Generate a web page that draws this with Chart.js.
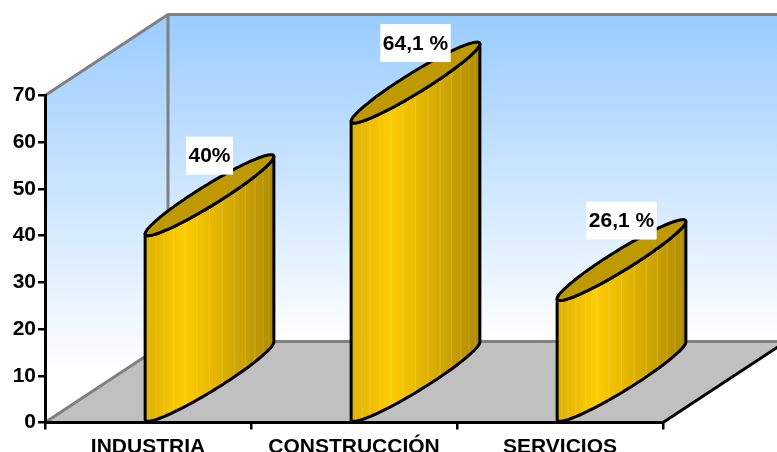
<!DOCTYPE html>
<html>
<head>
<meta charset="utf-8">
<style>
html, body { margin: 0; padding: 0; background: #fff; overflow: hidden; }
canvas { display: block; }
</style>
<script src="https://cdn.jsdelivr.net/npm/chart.js@4"></script>
</head>
<body>
<canvas id="sectorChart" width="777" height="452"></canvas>
<script>
const categories = ['INDUSTRIA', 'CONSTRUCCIÓN', 'SERVICIOS'];
const values = [40, 64.1, 26.1];
const valueLabels = ['40%', '64,1 %', '26,1 %'];
const yTicks = [0, 10, 20, 30, 40, 50, 60, 70];

// oblique depth of the 3d box
const DEPTH_X = 123;
const DEPTH_Y = 81;
const FONT = '"Liberation Sans", Arial, sans-serif';

/**
 * Walls and floor, hung off the chart area so they follow the scales
 */
const wallsPlugin = {
    id: 'walls',
    beforeDraw(chart) {
        const ctx = chart.ctx;
        const { left, right, top, bottom } = chart.chartArea;
        const backTop = top - DEPTH_Y;
        const backBottom = bottom - DEPTH_Y;

        ctx.save();
        ctx.lineWidth = 3;
        ctx.strokeStyle = '#808080';
        ctx.lineJoin = 'round';

        // back wall
        var backFill = ctx.createLinearGradient(0, backTop, 0, backBottom);
        backFill.addColorStop(0, '#99CCFF');
        backFill.addColorStop(1, '#FFFFFF');
        ctx.fillStyle = backFill;
        ctx.fillRect(left + DEPTH_X, backTop, right - left, bottom - top);

        // left wall
        var sideFill = ctx.createLinearGradient(0, backTop, 0, backBottom + 35);
        sideFill.addColorStop(0, '#99CCFF');
        sideFill.addColorStop(1, '#FFFFFF');
        ctx.fillStyle = sideFill;
        ctx.beginPath();
        ctx.moveTo(left, top);
        ctx.lineTo(left + DEPTH_X, backTop);
        ctx.lineTo(left + DEPTH_X, backBottom);
        ctx.lineTo(left, bottom);
        ctx.closePath();
        ctx.fill();

        // floor
        ctx.fillStyle = '#C0C0C0';
        ctx.beginPath();
        ctx.moveTo(left, bottom);
        ctx.lineTo(left + DEPTH_X, backBottom);
        ctx.lineTo(right + DEPTH_X, backBottom);
        ctx.lineTo(right, bottom);
        ctx.closePath();
        ctx.fill();

        // grey edges
        ctx.beginPath();
        ctx.moveTo(left, top);
        ctx.lineTo(left + DEPTH_X, backTop);
        ctx.lineTo(right + DEPTH_X, backTop);
        ctx.moveTo(left + DEPTH_X, backTop);
        ctx.lineTo(left + DEPTH_X, backBottom);
        ctx.lineTo(right + DEPTH_X, backBottom);
        ctx.moveTo(left + DEPTH_X, backBottom);
        ctx.lineTo(left, bottom);
        ctx.stroke();

        // front right floor edge is black
        ctx.strokeStyle = '#000';
        ctx.beginPath();
        ctx.moveTo(right, bottom);
        ctx.lineTo(right + DEPTH_X, backBottom);
        ctx.stroke();
        ctx.restore();
    }
};

/**
 * Point on the oblique ellipse of a column
 */
function ellipsePoint(cx, cy, halfWidth, t) {
    return {
        x: cx + halfWidth * Math.cos(t) + (DEPTH_X / 2) * Math.sin(t),
        y: cy - (DEPTH_Y / 2) * Math.sin(t)
    };
}

/**
 * Redraw each bar element of the dataset as an oblique cylinder, with its label
 */
const cylinderPlugin = {
    id: 'cylinders',
    afterDatasetsDraw(chart) {
        const ctx = chart.ctx;
        const bars = chart.getDatasetMeta(0).data;

        bars.forEach((bar, i) => {
            var hw = bar.width / 2;
            var cx = bar.x + DEPTH_X / 2;
            var topY = bar.y - DEPTH_Y / 2;
            var baseY = bar.base - DEPTH_Y / 2;
            var a = Math.atan2(DEPTH_X / 2, hw);
            var tLeft = Math.PI + a;
            var steps = 48;
            var extent = Math.hypot(hw, DEPTH_X / 2);

            var body = ctx.createLinearGradient(cx - extent, 0, cx + extent, 0);
            body.addColorStop(0, '#DDB000');
            body.addColorStop(0.3, '#FFCC00');
            body.addColorStop(0.72, '#D0A600');
            body.addColorStop(0.95, '#B48F00');
            body.addColorStop(1, '#A88500');

            ctx.save();
            ctx.lineJoin = 'round';
            ctx.lineWidth = 3;
            ctx.strokeStyle = '#000';

            // side of the column
            var side = new Path2D();
            for (let s = 0; s <= steps; s++) {
                let p = ellipsePoint(cx, baseY, hw, tLeft + Math.PI * s / steps);
                s === 0 ? side.moveTo(p.x, p.y) : side.lineTo(p.x, p.y);
            }
            for (let s = steps; s >= 0; s--) {
                let p = ellipsePoint(cx, topY, hw, tLeft + Math.PI * s / steps);
                side.lineTo(p.x, p.y);
            }
            side.closePath();
            ctx.fillStyle = body;
            ctx.fill(side);

            // facet seams
            ctx.save();
            ctx.lineWidth = 1;
            ctx.strokeStyle = 'rgba(255,255,255,0.18)';
            for (let s = 3; s < steps; s += 3) {
                let low = ellipsePoint(cx, baseY, hw, tLeft + Math.PI * s / steps);
                let high = ellipsePoint(cx, topY, hw, tLeft + Math.PI * s / steps);
                ctx.beginPath();
                ctx.moveTo(low.x, low.y);
                ctx.lineTo(high.x, high.y);
                ctx.stroke();
            }
            ctx.restore();

            ctx.stroke(side);

            // top cap
            var cap = new Path2D();
            for (let s = 0; s < steps * 2; s++) {
                let p = ellipsePoint(cx, topY, hw, Math.PI * s / steps);
                s === 0 ? cap.moveTo(p.x, p.y) : cap.lineTo(p.x, p.y);
            }
            cap.closePath();
            ctx.fillStyle = '#BF9900';
            ctx.fill(cap);
            ctx.stroke(cap);

            // value label in a white box
            var labelX = cx;
            var labelY = bar.y - DEPTH_Y + 1;
            ctx.font = 'bold 21px ' + FONT;
            var boxW = ctx.measureText(valueLabels[i]).width + 5;
            ctx.fillStyle = '#fff';
            ctx.fillRect(labelX - boxW / 2, labelY - 19, boxW, 38);
            ctx.fillStyle = '#000';
            ctx.textAlign = 'center';
            ctx.textBaseline = 'middle';
            ctx.fillText(valueLabels[i], labelX, labelY + 1);
            ctx.restore();
        });
    }
};

new Chart(document.getElementById('sectorChart').getContext('2d'), {
    type: 'bar',
    plugins: [wallsPlugin, cylinderPlugin],
    data: {
        labels: categories,
        datasets: [{
            label: 'Porcentaje',
            data: values,
            backgroundColor: 'transparent',
            barThickness: 38
        }]
    },
    options: {
        responsive: false,
        animation: false,
        layout: { padding: { top: 95.5, right: 114, left: 0, bottom: 0 } },
        plugins: { legend: { display: false }, tooltip: { enabled: false } },
        scales: {
            x: {
                afterFit: scale => { scale.height = 29.5; },
                border: { color: '#000', width: 3 },
                grid: { drawOnChartArea: false, color: '#000', tickLength: 7, lineWidth: 2.5 },
                ticks: {
                    color: '#000',
                    font: { family: FONT, size: 21, weight: 'bold' },
                    padding: 5,
                    maxRotation: 0,
                    autoSkip: false
                }
            },
            y: {
                min: 0,
                max: 70,
                afterFit: scale => { scale.width = 45; },
                afterBuildTicks: scale => { scale.ticks = yTicks.map(v => ({ value: v })); },
                border: { color: '#000', width: 3 },
                grid: { drawOnChartArea: false, color: '#000', tickLength: 7, lineWidth: 2.5 },
                ticks: {
                    color: '#000',
                    font: { family: FONT, size: 21, weight: 'bold' },
                    padding: 2
                }
            }
        }
    }
});
</script>
</body>
</html>
